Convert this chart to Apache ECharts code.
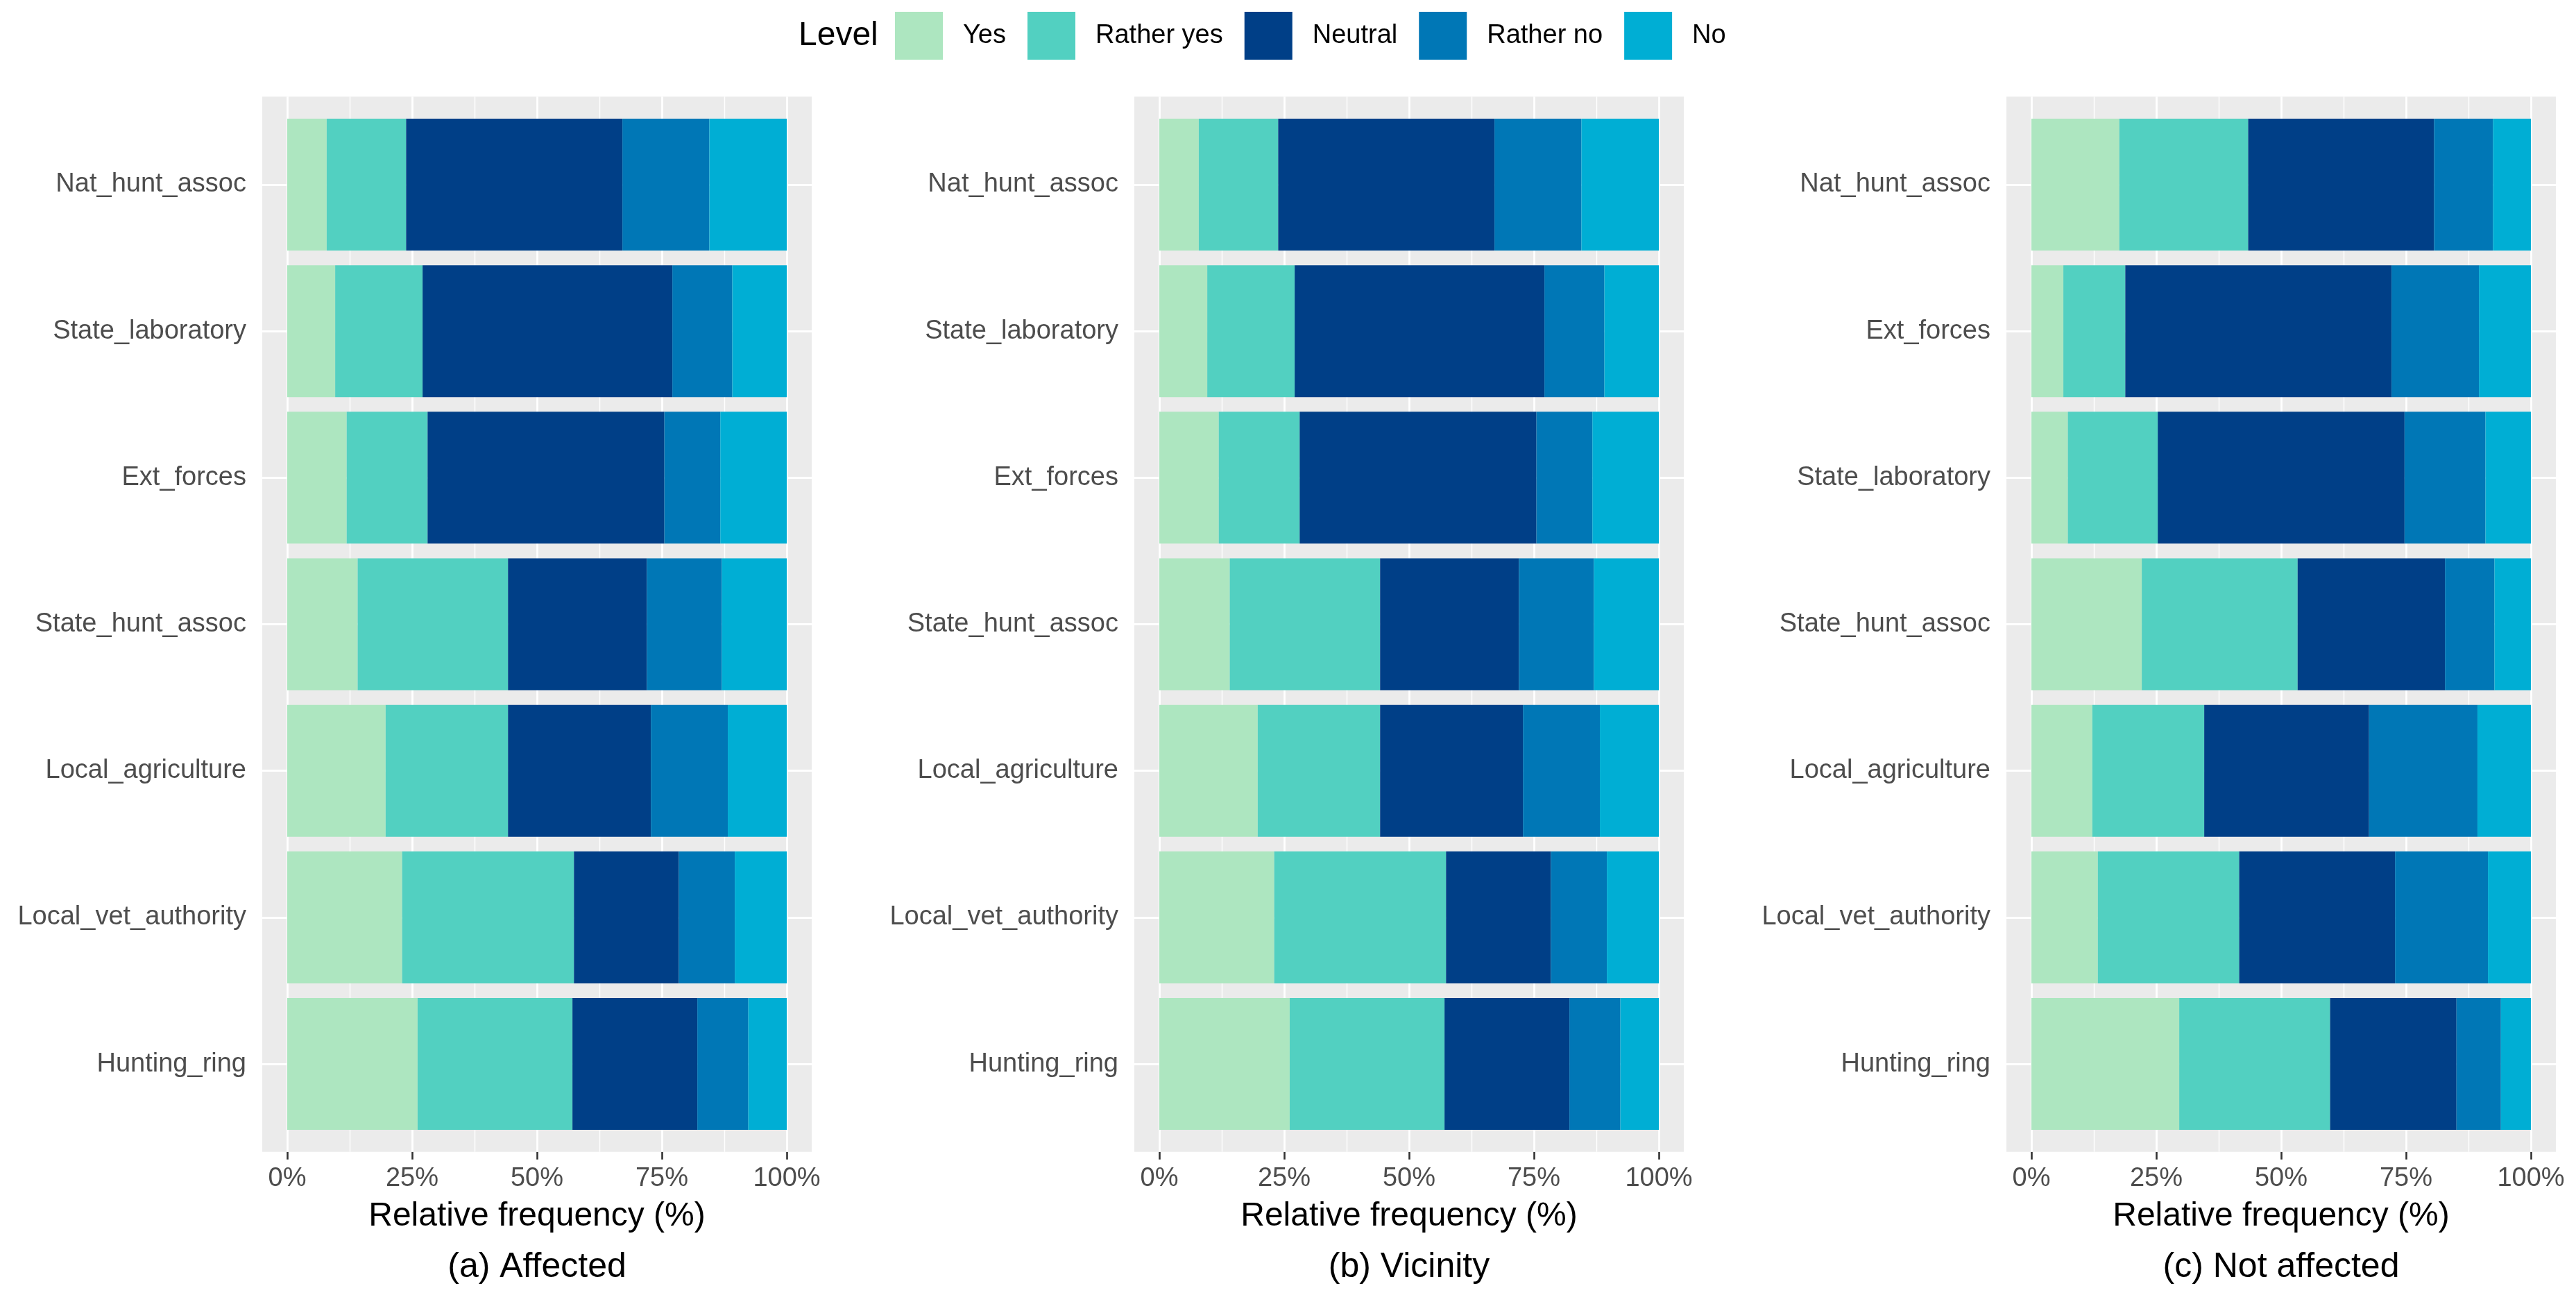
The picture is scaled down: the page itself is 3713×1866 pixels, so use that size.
<!DOCTYPE html>
<html><head><meta charset="utf-8">
<script src="https://cdn.jsdelivr.net/npm/echarts@6/dist/echarts.min.js"></script>
<style>html,body{margin:0;padding:0;background:#fff}#chart{width:3713px;height:1866px}</style>
</head><body><div id="chart"></div>
<script>
// ---------- data ----------
const levels = ['Yes', 'Rather yes', 'Neutral', 'Rather no', 'No'];
const levelColors = ['#ADE6C0', '#52D0C1', '#003F87', '#0077B6', '#00AED4'];

const catsAffected = ['Nat_hunt_assoc', 'State_laboratory', 'Ext_forces', 'State_hunt_assoc', 'Local_agriculture', 'Local_vet_authority', 'Hunting_ring'];
const affectedYes       = [7.9, 9.6, 11.9, 14.1, 19.7, 23.0, 26.1];
const affectedRatherYes = [15.9, 17.5, 16.2, 30.1, 24.5, 34.4, 31.0];
const affectedNeutral   = [43.3, 50.0, 47.4, 27.8, 28.6, 21.0, 25.0];
const affectedRatherNo  = [17.4, 12.0, 11.2, 15.0, 15.4, 11.2, 10.2];
const affectedNo        = [15.5, 10.9, 13.3, 13.0, 11.8, 10.4, 7.7];

const catsVicinity = ['Nat_hunt_assoc', 'State_laboratory', 'Ext_forces', 'State_hunt_assoc', 'Local_agriculture', 'Local_vet_authority', 'Hunting_ring'];
const vicinityYes       = [7.9, 9.6, 11.9, 14.1, 19.7, 23.0, 26.1];
const vicinityRatherYes = [15.9, 17.5, 16.2, 30.1, 24.5, 34.4, 31.0];
const vicinityNeutral   = [43.3, 50.0, 47.4, 27.8, 28.6, 21.0, 25.0];
const vicinityRatherNo  = [17.4, 12.0, 11.2, 15.0, 15.4, 11.2, 10.2];
const vicinityNo        = [15.5, 10.9, 13.3, 13.0, 11.8, 10.4, 7.7];

const catsNotAffected = ['Nat_hunt_assoc', 'Ext_forces', 'State_laboratory', 'State_hunt_assoc', 'Local_agriculture', 'Local_vet_authority', 'Hunting_ring'];
const notAffectedYes       = [17.6, 6.4, 7.3, 22.1, 12.2, 13.3, 29.6];
const notAffectedRatherYes = [25.8, 12.4, 18.0, 31.2, 22.4, 28.3, 30.2];
const notAffectedNeutral   = [37.2, 53.3, 49.4, 29.5, 33.0, 31.2, 25.3];
const notAffectedRatherNo  = [11.8, 17.5, 16.2, 9.9, 21.7, 18.6, 8.9];
const notAffectedNo        = [7.6, 10.4, 9.1, 7.3, 10.7, 8.6, 6.0];

const xTicks = [0, 25, 50, 75, 100];
const xMinorTicks = [12.5, 37.5, 62.5, 87.5];
const panelTitles = ['(a) Affected', '(b) Vicinity', '(c) Not affected'];
const xAxisTitle = 'Relative frequency (%)';
const legendTitle = 'Level';

// ---------- layout ----------
const FONT = "'Liberation Sans', Arial, Helvetica, sans-serif";
const panelLeft0 = [414, 1671, 2928];   // pixel x of 0% in each panel
const panelSpan = 720;                   // pixel width from 0% to 100%
const band = 211.17;                     // category spacing
const firstCenter = 266;

const panels = [
  { cats: catsAffected, values: [affectedYes, affectedRatherYes, affectedNeutral, affectedRatherNo, affectedNo] },
  { cats: catsVicinity, values: [vicinityYes, vicinityRatherYes, vicinityNeutral, vicinityRatherNo, vicinityNo] },
  { cats: catsNotAffected, values: [notAffectedYes, notAffectedRatherYes, notAffectedNeutral, notAffectedRatherNo, notAffectedNo] }
];

const grids = [], xAxes = [], yAxes = [], series = [], graphics = [];
const pad = panelSpan * 0.05;

panels.forEach((p, k) => {
  const x0 = panelLeft0[k];
  // background grid (index 2k)
  grids.push({
    left: x0 - pad, width: panelSpan + 2 * pad,
    top: firstCenter - 0.6 * band, height: (p.cats.length - 1 + 1.2) * band,
    show: true, backgroundColor: '#EBEBEB', borderWidth: 0,
    containLabel: false, outerBoundsMode: 'none'
  });
  // bar grid (index 2k+1)
  grids.push({
    left: x0, width: panelSpan,
    top: firstCenter - 0.5 * band, height: p.cats.length * band,
    show: false, containLabel: false, outerBoundsMode: 'none'
  });
  xAxes.push({ gridIndex: 2 * k, type: 'value', min: -5, max: 105, show: false });
  yAxes.push({ gridIndex: 2 * k, type: 'value', min: -0.6, max: p.cats.length - 1 + 0.6, inverse: true, show: false });
  xAxes.push({
    gridIndex: 2 * k + 1, type: 'value', min: 0, max: 100, interval: 25,
    offset: 0.1 * band,
    axisLine: { show: false },
    axisTick: { show: true, length: 11, lineStyle: { color: '#333333', width: 2.6 } },
    axisLabel: { formatter: '{value}%', fontSize: 38, color: '#4D4D4D', margin: 20, fontFamily: FONT },
    splitLine: { show: false },
    name: xAxisTitle, nameLocation: 'middle', nameGap: 69,
    nameTextStyle: { fontSize: 48, color: '#000000', fontFamily: FONT }
  });
  yAxes.push({
    gridIndex: 2 * k + 1, type: 'category', data: p.cats, inverse: true,
    offset: pad,
    axisLine: { show: false },
    axisTick: { show: true, alignWithLabel: true, length: 12, lineStyle: { color: '#333333', width: 2.6 } },
    axisLabel: { fontSize: 38, color: '#4D4D4D', margin: 23, fontFamily: FONT },
    splitLine: { show: false }
  });
  // gridlines
  const gl = [];
  xTicks.forEach(v => gl.push({ xAxis: v, lineStyle: { color: '#FFFFFF', width: 2.8, type: 'solid' } }));
  xMinorTicks.forEach(v => gl.push({ xAxis: v, lineStyle: { color: '#FFFFFF', width: 1.4, type: 'solid' } }));
  p.cats.forEach((c, i) => gl.push({ yAxis: i, lineStyle: { color: '#FFFFFF', width: 2.8, type: 'solid' } }));
  series.push({
    type: 'line', name: '__grid' + k, xAxisIndex: 2 * k, yAxisIndex: 2 * k, data: [], silent: true,
    markLine: { silent: true, symbol: ['none', 'none'], label: { show: false }, z: 1, animation: false,
      emphasis: { disabled: true }, data: gl }
  });
  levels.forEach((lv, j) => {
    series.push({
      type: 'bar', name: lv, xAxisIndex: 2 * k + 1, yAxisIndex: 2 * k + 1, stack: 'panel' + k,
      barWidth: '90%', data: p.values[j], z: 3,
      itemStyle: { color: levelColors[j], borderWidth: 0 },
      emphasis: { disabled: true }
    });
  });
  graphics.push({
    type: 'text', x: x0 + panelSpan / 2, y: 1826,
    style: { text: panelTitles[k], font: '50px ' + FONT, fill: '#000000',
      textAlign: 'center', textVerticalAlign: 'middle', align: 'center', verticalAlign: 'middle' }
  });
});

graphics.push({
  type: 'text', x: 1151, y: 52,
  style: { text: legendTitle, font: '48px ' + FONT, fill: '#000000',
    textAlign: 'left', textVerticalAlign: 'middle', align: 'left', verticalAlign: 'middle' }
});

const chart = echarts.init(document.getElementById('chart'), null, { renderer: 'canvas' });
chart.setOption({
  backgroundColor: '#FFFFFF',
  animation: false,
  grid: grids, xAxis: xAxes, yAxis: yAxes, series: series,
  legend: {
    data: levels, left: 1290, top: 17, padding: 0,
    itemWidth: 69, itemHeight: 69, itemGap: 31, icon: 'rect', selectedMode: false,
    itemStyle: { borderWidth: 0 },
    textStyle: { fontSize: 38, color: '#000000', fontFamily: FONT, padding: [0, 0, 0, 24] }
  },
  graphic: graphics
});
</script></body></html>
